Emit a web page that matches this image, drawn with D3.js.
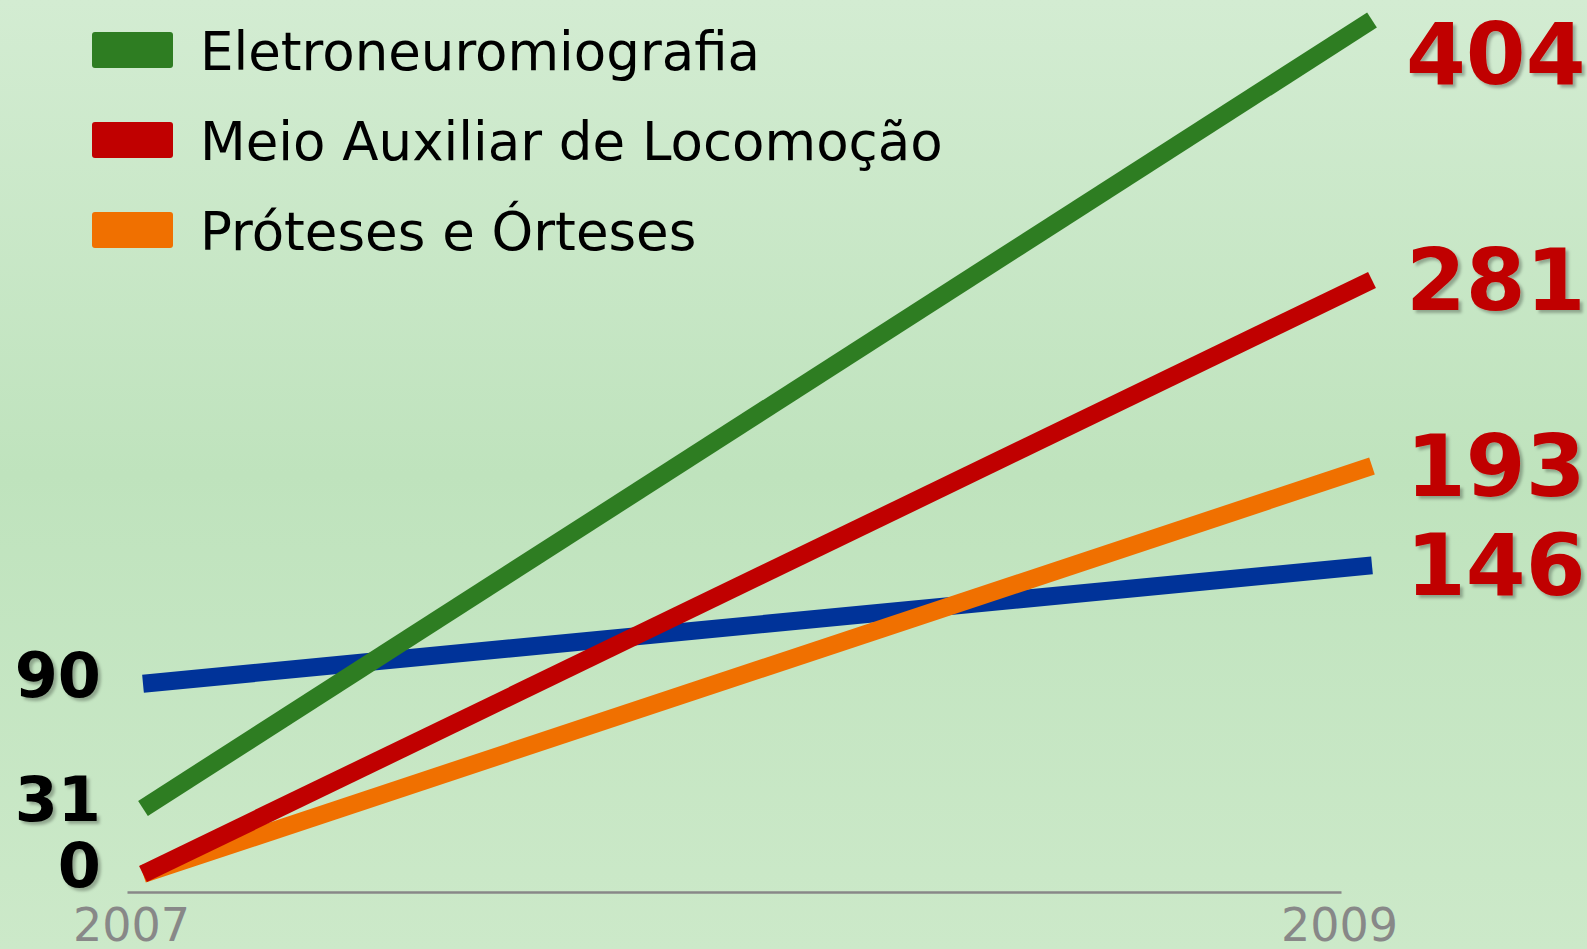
<!DOCTYPE html>
<html>
<head>
<meta charset="utf-8">
<script src="https://cdn.jsdelivr.net/npm/d3@7"></script>
<style>
  html, body { margin: 0; padding: 0; overflow: hidden; }
  svg { display: block; }
</style>
</head>
<body>
<svg id="chart"></svg>
<script>
// data
const years = ['2007', '2009'];
const seriesNames = ['Eletroneuromiografia', 'Meio Auxiliar de Locomoção', 'Próteses e Órteses', ''];
const startValues = [31, 0, 0, 90];
const endValues = [404, 281, 193, 146];
const seriesColors = ['#2e7d22', '#c00000', '#f07000', '#003399'];
// order the lines are painted in (last one on top)
const drawOrder = [3, 2, 1, 0];

const width = 1587;
const height = 949;
const font = 'DejaVu Sans, Verdana, sans-serif';

const svg = d3.select('#chart').attr('width', width).attr('height', height);

//
// background gradient + text shadow
//
const defs = svg.append('defs');
const grad = defs.append('linearGradient')
  .attr('id', 'bg')
  .attr('x1', 0).attr('y1', 0).attr('x2', 0).attr('y2', 1);
grad.append('stop').attr('offset', '0%').attr('stop-color', '#d3ecd2');
grad.append('stop').attr('offset', '50%').attr('stop-color', '#bfe3bd');
grad.append('stop').attr('offset', '100%').attr('stop-color', '#cce9c9');

const shadow = defs.append('filter').attr('id', 'shadow')
  .attr('x', '-10%').attr('y', '-10%').attr('width', '130%').attr('height', '130%');
shadow.append('feDropShadow')
  .attr('dx', 3).attr('dy', 3).attr('stdDeviation', 1.8)
  .attr('flood-color', '#000').attr('flood-opacity', 0.28);

svg.append('rect').attr('width', width).attr('height', height).attr('fill', 'url(#bg)');

//
// scales
//
const x = d3.scalePoint().domain(years).range([143, 1372]);
const xAxisScale = d3.scalePoint().domain(years).range([127, 1341]);
const y = d3.scaleLinear().domain([0, 404]).range([874, 20]);

//
// x axis
//
const axis = svg.append('g')
  .attr('transform', 'translate(0,892)')
  .call(d3.axisBottom(xAxisScale).tickSize(0).tickSizeOuter(0));
axis.select('.domain').attr('stroke', '#888').attr('stroke-width', 2.5);
axis.selectAll('text')
  .attr('x', (d, i) => (i === 0 ? 4 : -2))
  .attr('y', 49)
  .attr('dy', 0)
  .attr('font-family', font)
  .attr('font-size', 46)
  .attr('fill', '#888');

//
// lines
//
const line = d3.line().x(d => x(d.year)).y(d => y(d.value));
const lineData = drawOrder.map(i => ({
  color: seriesColors[i],
  points: [
    { year: years[0], value: startValues[i] },
    { year: years[1], value: endValues[i] }
  ]
}));

svg.append('g').selectAll('path')
  .data(lineData)
  .join('path')
  .attr('d', d => line(d.points))
  .attr('fill', 'none')
  .attr('stroke', d => d.color)
  .attr('stroke-width', 18)
  .attr('stroke-linecap', 'butt');

//
// value labels
//
// left side: unique start values, black
const startLabels = Array.from(new Set(startValues)).sort((a, b) => b - a);
svg.append('g').selectAll('text')
  .data(startLabels)
  .join('text')
  .attr('x', 101)
  .attr('y', d => y(d) + 13)
  .attr('text-anchor', 'end')
  .attr('font-family', font)
  .attr('font-weight', 'bold')
  .attr('font-size', 62)
  .attr('fill', '#000')
  .attr('filter', 'url(#shadow)')
  .text(d => d);

// right side: end values, red, kept inside the top edge
svg.append('g').selectAll('text')
  .data(endValues)
  .join('text')
  .attr('x', 1406)
  .attr('y', d => Math.max(y(d) + 30, 84))
  .attr('font-family', font)
  .attr('font-weight', 'bold')
  .attr('font-size', 86)
  .attr('fill', '#c00000')
  .attr('filter', 'url(#shadow)')
  .text(d => d);

//
// legend (the blue series has no entry)
//
const legendItems = seriesNames
  .map((name, i) => ({ name, color: seriesColors[i] }))
  .filter(d => d.name !== '');

const legend = svg.append('g').selectAll('g')
  .data(legendItems)
  .join('g')
  .attr('transform', (d, i) => `translate(92,${32 + i * 90})`);

legend.append('rect')
  .attr('width', 81)
  .attr('height', 36)
  .attr('rx', 3)
  .attr('fill', d => d.color);

legend.append('text')
  .attr('x', 108)
  .attr('y', 38)
  .attr('font-family', font)
  .attr('font-size', 53)
  .attr('fill', '#000')
  .text(d => d.name);
</script>
</body>
</html>
